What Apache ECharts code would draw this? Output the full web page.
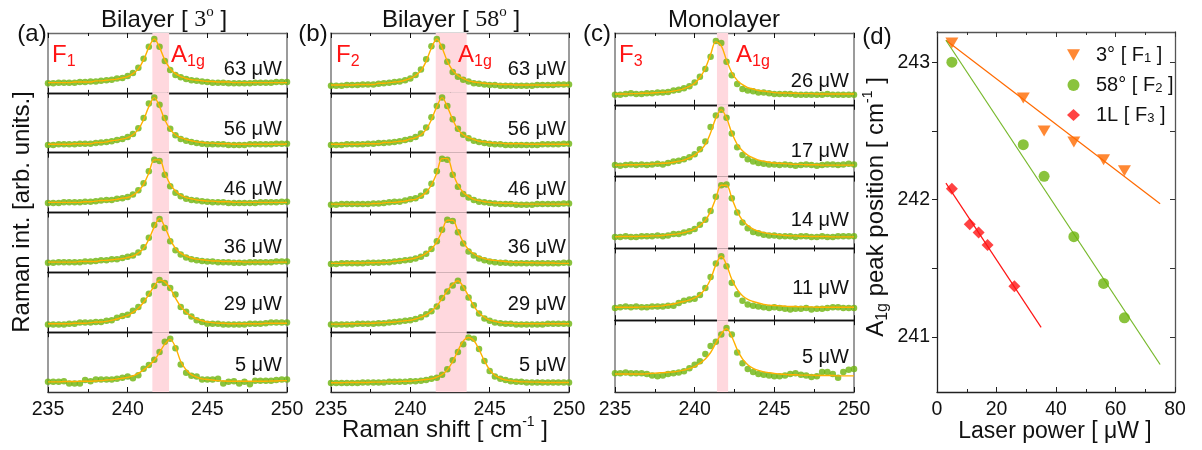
<!DOCTYPE html>
<html><head><meta charset="utf-8">
<script src="https://cdn.jsdelivr.net/npm/echarts@6/dist/echarts.min.js"></script>
<style>html,body{margin:0;padding:0;background:#fff}#c{width:1202px;height:450px}</style>
</head><body><div id="c"></div>
<script>
// ---------- DATA ----------
const ramanShift = [235.00,235.33,235.67,236.00,236.33,236.67,237.00,237.33,237.67,238.00,238.33,238.67,239.00,239.33,239.67,240.00,240.33,240.67,241.00,241.33,241.67,242.00,242.33,242.67,243.00,243.33,243.67,244.00,244.33,244.67,245.00,245.33,245.67,246.00,246.33,246.67,247.00,247.33,247.67,248.00,248.33,248.67,249.00,249.33,249.67,250.00];

// (a) Bilayer 3 deg, F1
const a63Dots = [0.16,0.16,0.17,0.17,0.17,0.17,0.18,0.18,0.19,0.19,0.20,0.21,0.22,0.24,0.25,0.28,0.33,0.42,0.57,0.77,0.90,0.77,0.53,0.38,0.30,0.26,0.23,0.21,0.20,0.19,0.18,0.17,0.17,0.17,0.16,0.16,0.16,0.16,0.16,0.17,0.17,0.17,0.17,0.18,0.18,0.18];
const a63Fit  = [0.17,0.17,0.17,0.17,0.17,0.18,0.18,0.18,0.18,0.20,0.20,0.21,0.22,0.23,0.25,0.27,0.32,0.40,0.55,0.76,0.90,0.76,0.55,0.40,0.32,0.27,0.24,0.22,0.21,0.20,0.19,0.19,0.18,0.18,0.18,0.17,0.17,0.17,0.17,0.17,0.17,0.17,0.17,0.17,0.17,0.17];
const a56Dots = [0.13,0.13,0.14,0.14,0.14,0.14,0.15,0.15,0.15,0.16,0.17,0.18,0.19,0.21,0.23,0.26,0.31,0.41,0.58,0.82,0.92,0.80,0.58,0.40,0.29,0.23,0.20,0.18,0.16,0.15,0.14,0.14,0.14,0.14,0.13,0.13,0.13,0.13,0.14,0.14,0.14,0.14,0.14,0.15,0.15,0.15];
const a56Fit  = [0.14,0.14,0.14,0.14,0.14,0.15,0.15,0.15,0.15,0.17,0.17,0.18,0.20,0.21,0.23,0.25,0.30,0.39,0.55,0.77,0.92,0.77,0.55,0.39,0.30,0.25,0.22,0.20,0.18,0.17,0.16,0.16,0.15,0.15,0.15,0.14,0.14,0.14,0.14,0.14,0.14,0.14,0.14,0.14,0.14,0.15];
const a46Dots = [0.16,0.16,0.16,0.17,0.17,0.17,0.17,0.18,0.18,0.19,0.20,0.21,0.21,0.23,0.24,0.26,0.30,0.37,0.49,0.69,0.88,0.86,0.63,0.44,0.33,0.27,0.23,0.21,0.20,0.19,0.18,0.17,0.17,0.17,0.16,0.16,0.16,0.16,0.16,0.16,0.17,0.17,0.17,0.17,0.18,0.18];
const a46Fit  = [0.17,0.17,0.17,0.17,0.17,0.17,0.17,0.18,0.18,0.19,0.20,0.20,0.21,0.22,0.24,0.25,0.29,0.36,0.47,0.66,0.88,0.88,0.66,0.47,0.36,0.29,0.25,0.23,0.21,0.20,0.19,0.19,0.18,0.18,0.18,0.17,0.17,0.17,0.17,0.17,0.17,0.17,0.17,0.17,0.17,0.17];
const a36Dots = [0.16,0.16,0.17,0.17,0.17,0.17,0.17,0.18,0.18,0.19,0.20,0.20,0.22,0.22,0.24,0.26,0.28,0.33,0.42,0.58,0.79,0.89,0.74,0.52,0.37,0.30,0.25,0.22,0.20,0.19,0.18,0.18,0.17,0.17,0.17,0.16,0.16,0.16,0.17,0.17,0.17,0.17,0.17,0.18,0.18,0.18];
const a36Fit  = [0.17,0.17,0.17,0.17,0.17,0.17,0.18,0.18,0.18,0.18,0.20,0.20,0.21,0.22,0.23,0.25,0.27,0.32,0.40,0.55,0.76,0.90,0.76,0.55,0.40,0.32,0.27,0.24,0.22,0.21,0.20,0.19,0.19,0.18,0.18,0.18,0.18,0.17,0.17,0.17,0.17,0.17,0.17,0.17,0.17,0.17];
const a29Dots = [0.13,0.13,0.13,0.13,0.14,0.14,0.16,0.16,0.16,0.17,0.17,0.19,0.20,0.24,0.27,0.29,0.36,0.42,0.53,0.64,0.77,0.87,0.82,0.74,0.63,0.42,0.34,0.26,0.20,0.17,0.14,0.14,0.14,0.13,0.13,0.13,0.13,0.13,0.14,0.14,0.14,0.15,0.16,0.16,0.16,0.16];
const a29Fit  = [0.14,0.14,0.14,0.14,0.14,0.15,0.15,0.15,0.16,0.17,0.17,0.18,0.20,0.22,0.25,0.28,0.33,0.40,0.50,0.63,0.77,0.87,0.84,0.73,0.57,0.43,0.33,0.27,0.22,0.19,0.17,0.16,0.15,0.15,0.14,0.14,0.14,0.14,0.14,0.14,0.14,0.15,0.15,0.15,0.15,0.15];
const a5Dots  = [0.17,0.17,0.17,0.18,0.14,0.14,0.14,0.20,0.18,0.21,0.21,0.21,0.21,0.22,0.24,0.26,0.23,0.28,0.39,0.45,0.54,0.67,0.84,0.89,0.73,0.46,0.32,0.27,0.26,0.21,0.21,0.21,0.22,0.14,0.17,0.18,0.14,0.17,0.13,0.19,0.19,0.19,0.19,0.20,0.21,0.21];
const a5Fit   = [0.17,0.17,0.17,0.175,0.175,0.175,0.18,0.18,0.18,0.185,0.19,0.20,0.205,0.215,0.23,0.245,0.27,0.31,0.37,0.44,0.53,0.66,0.80,0.88,0.75,0.51,0.37,0.29,0.25,0.22,0.21,0.20,0.19,0.185,0.18,0.18,0.18,0.18,0.18,0.18,0.18,0.18,0.185,0.185,0.19,0.19];

// (b) Bilayer 58 deg, F2
const b63Dots = [0.12,0.12,0.12,0.13,0.13,0.13,0.14,0.14,0.14,0.15,0.16,0.17,0.18,0.19,0.21,0.24,0.30,0.39,0.56,0.78,0.90,0.77,0.52,0.35,0.27,0.22,0.19,0.16,0.15,0.14,0.13,0.13,0.12,0.12,0.12,0.12,0.12,0.12,0.12,0.13,0.13,0.13,0.13,0.14,0.14,0.14];
const b63Fit  = [0.13,0.13,0.13,0.13,0.13,0.14,0.14,0.14,0.14,0.16,0.16,0.17,0.18,0.19,0.21,0.24,0.29,0.37,0.53,0.75,0.90,0.75,0.53,0.37,0.29,0.24,0.20,0.18,0.17,0.16,0.15,0.15,0.14,0.14,0.14,0.13,0.13,0.13,0.13,0.13,0.13,0.13,0.13,0.13,0.13,0.13];
const b56Dots = [0.13,0.13,0.13,0.14,0.14,0.14,0.14,0.15,0.15,0.16,0.16,0.17,0.18,0.19,0.21,0.23,0.26,0.32,0.42,0.59,0.78,0.92,0.78,0.56,0.40,0.30,0.24,0.20,0.18,0.16,0.15,0.14,0.14,0.13,0.13,0.13,0.13,0.13,0.13,0.13,0.14,0.14,0.14,0.14,0.15,0.15];
const b56Fit  = [0.14,0.14,0.14,0.14,0.14,0.14,0.15,0.15,0.15,0.15,0.17,0.17,0.18,0.19,0.20,0.23,0.25,0.30,0.39,0.55,0.77,0.92,0.77,0.55,0.39,0.30,0.25,0.22,0.19,0.18,0.17,0.16,0.16,0.15,0.15,0.15,0.15,0.14,0.14,0.14,0.14,0.14,0.14,0.14,0.14,0.14];
const b46Dots = [0.13,0.13,0.14,0.14,0.14,0.14,0.14,0.14,0.15,0.15,0.16,0.17,0.18,0.18,0.20,0.22,0.24,0.28,0.35,0.48,0.69,0.90,0.88,0.63,0.43,0.31,0.25,0.21,0.18,0.17,0.16,0.15,0.14,0.14,0.14,0.13,0.13,0.13,0.13,0.14,0.14,0.14,0.14,0.14,0.15,0.15];
const b46Fit  = [0.14,0.14,0.14,0.14,0.14,0.14,0.14,0.14,0.15,0.15,0.16,0.17,0.17,0.18,0.19,0.21,0.22,0.27,0.34,0.46,0.66,0.90,0.90,0.66,0.46,0.34,0.27,0.22,0.20,0.18,0.17,0.16,0.16,0.15,0.15,0.15,0.14,0.14,0.14,0.14,0.14,0.14,0.14,0.14,0.14,0.14];
const b36Dots = [0.14,0.14,0.15,0.15,0.15,0.15,0.15,0.16,0.16,0.16,0.17,0.17,0.18,0.19,0.20,0.21,0.23,0.26,0.31,0.39,0.52,0.71,0.88,0.86,0.67,0.48,0.35,0.28,0.23,0.20,0.18,0.17,0.16,0.16,0.15,0.15,0.15,0.15,0.15,0.15,0.15,0.15,0.15,0.15,0.16,0.16];
const b36Fit  = [0.15,0.15,0.15,0.155,0.155,0.155,0.155,0.16,0.16,0.165,0.165,0.17,0.185,0.195,0.21,0.22,0.24,0.27,0.32,0.39,0.51,0.69,0.87,0.87,0.69,0.51,0.38,0.31,0.26,0.23,0.21,0.20,0.19,0.18,0.17,0.165,0.165,0.16,0.16,0.155,0.155,0.155,0.155,0.15,0.15,0.15];
const b29Dots = [0.13,0.13,0.13,0.13,0.13,0.14,0.14,0.14,0.14,0.15,0.15,0.16,0.17,0.18,0.19,0.20,0.22,0.25,0.30,0.35,0.43,0.57,0.68,0.78,0.86,0.74,0.58,0.45,0.31,0.23,0.19,0.16,0.15,0.14,0.14,0.13,0.13,0.13,0.13,0.13,0.13,0.14,0.14,0.14,0.14,0.14];
const b29Fit  = [0.135,0.135,0.135,0.14,0.14,0.14,0.145,0.145,0.15,0.155,0.16,0.165,0.17,0.18,0.19,0.20,0.22,0.25,0.29,0.35,0.44,0.56,0.69,0.80,0.86,0.76,0.60,0.44,0.32,0.25,0.20,0.18,0.16,0.15,0.15,0.14,0.14,0.14,0.14,0.14,0.14,0.14,0.14,0.14,0.14,0.14];
const b5Dots  = [0.15,0.15,0.15,0.15,0.15,0.15,0.16,0.16,0.16,0.16,0.16,0.17,0.17,0.17,0.17,0.18,0.18,0.19,0.20,0.22,0.24,0.29,0.38,0.53,0.67,0.80,0.91,0.89,0.72,0.52,0.35,0.26,0.22,0.20,0.18,0.17,0.17,0.16,0.16,0.16,0.16,0.16,0.16,0.16,0.16,0.16];
const b5Fit   = [0.155,0.155,0.155,0.16,0.16,0.16,0.16,0.16,0.165,0.165,0.17,0.17,0.17,0.175,0.18,0.18,0.19,0.20,0.21,0.22,0.25,0.29,0.37,0.51,0.69,0.85,0.91,0.86,0.71,0.52,0.37,0.28,0.23,0.20,0.19,0.18,0.17,0.17,0.165,0.165,0.16,0.16,0.16,0.16,0.16,0.16];

// (c) Monolayer, F3
const c26Dots = [0.14,0.14,0.15,0.16,0.15,0.15,0.16,0.16,0.17,0.17,0.18,0.20,0.21,0.23,0.26,0.31,0.39,0.50,0.67,0.89,0.86,0.60,0.41,0.29,0.22,0.20,0.19,0.17,0.17,0.16,0.15,0.15,0.15,0.15,0.14,0.14,0.14,0.14,0.14,0.14,0.15,0.14,0.14,0.14,0.14,0.14];
const c26Fit  = [0.15,0.15,0.15,0.155,0.155,0.16,0.16,0.165,0.17,0.175,0.18,0.19,0.205,0.225,0.255,0.30,0.38,0.51,0.70,0.88,0.82,0.62,0.45,0.34,0.28,0.24,0.22,0.20,0.19,0.18,0.17,0.165,0.165,0.16,0.16,0.155,0.155,0.155,0.15,0.15,0.15,0.15,0.15,0.15,0.15,0.15];
const c17Dots = [0.16,0.15,0.16,0.17,0.16,0.17,0.16,0.17,0.18,0.17,0.19,0.21,0.22,0.24,0.27,0.31,0.38,0.49,0.69,0.85,0.93,0.82,0.60,0.41,0.30,0.24,0.21,0.19,0.18,0.17,0.17,0.16,0.17,0.16,0.15,0.16,0.17,0.16,0.15,0.16,0.17,0.17,0.16,0.17,0.18,0.17];
const c17Fit  = [0.16,0.16,0.165,0.165,0.165,0.17,0.17,0.175,0.18,0.185,0.19,0.20,0.215,0.23,0.26,0.30,0.36,0.45,0.61,0.815,0.93,0.815,0.61,0.45,0.36,0.30,0.26,0.23,0.215,0.20,0.19,0.185,0.18,0.175,0.17,0.17,0.165,0.165,0.165,0.16,0.16,0.16,0.16,0.16,0.16,0.16];
const c14Dots = [0.16,0.16,0.17,0.16,0.16,0.17,0.17,0.17,0.18,0.17,0.18,0.20,0.20,0.22,0.24,0.27,0.33,0.40,0.52,0.72,0.88,0.89,0.70,0.50,0.36,0.28,0.23,0.21,0.19,0.18,0.18,0.17,0.17,0.17,0.16,0.17,0.17,0.16,0.16,0.17,0.16,0.16,0.17,0.17,0.17,0.17];
const c14Fit  = [0.16,0.165,0.165,0.165,0.165,0.17,0.17,0.175,0.175,0.18,0.19,0.195,0.205,0.22,0.24,0.27,0.32,0.39,0.515,0.70,0.88,0.88,0.70,0.515,0.39,0.32,0.27,0.24,0.22,0.205,0.195,0.19,0.18,0.175,0.175,0.17,0.17,0.165,0.165,0.165,0.165,0.16,0.16,0.16,0.16,0.16];
const c11Dots = [0.17,0.18,0.19,0.18,0.19,0.18,0.18,0.19,0.19,0.19,0.20,0.20,0.24,0.27,0.29,0.30,0.35,0.45,0.60,0.79,0.89,0.75,0.52,0.36,0.27,0.22,0.20,0.19,0.18,0.17,0.18,0.17,0.16,0.15,0.16,0.16,0.17,0.15,0.16,0.16,0.17,0.18,0.18,0.17,0.17,0.17];
const c11Fit  = [0.18,0.18,0.18,0.18,0.18,0.185,0.185,0.19,0.195,0.20,0.215,0.225,0.245,0.26,0.28,0.31,0.355,0.44,0.57,0.77,0.89,0.77,0.57,0.43,0.34,0.29,0.26,0.24,0.22,0.21,0.205,0.20,0.195,0.19,0.19,0.185,0.185,0.185,0.18,0.18,0.18,0.18,0.18,0.18,0.18,0.18];
const c5Dots  = [0.26,0.26,0.27,0.26,0.26,0.26,0.25,0.23,0.22,0.23,0.25,0.26,0.27,0.29,0.33,0.38,0.43,0.53,0.64,0.70,0.80,0.89,0.80,0.55,0.40,0.32,0.28,0.25,0.24,0.23,0.22,0.22,0.23,0.25,0.26,0.24,0.23,0.21,0.22,0.28,0.28,0.25,0.20,0.28,0.31,0.32];
const c5Fit   = [0.25,0.25,0.25,0.25,0.25,0.25,0.255,0.26,0.265,0.27,0.275,0.28,0.29,0.305,0.325,0.355,0.40,0.46,0.55,0.68,0.81,0.88,0.77,0.59,0.46,0.38,0.33,0.30,0.28,0.27,0.26,0.25,0.245,0.24,0.24,0.235,0.235,0.235,0.23,0.23,0.23,0.23,0.225,0.225,0.225,0.225];

const powersA = ['63','56','46','36','29','5'];
const powersB = ['63','56','46','36','29','5'];
const powersC = ['26','17','14','11','5'];

// (d) A1g peak position vs laser power
const laserPowerF1 = [5,29,36,46,56,63];
const peakF1 = [243.14,242.74,242.50,242.42,242.29,242.21];
const laserPowerF2 = [5,29,36,46,56,63];
const peakF2 = [243.00,242.40,242.17,241.73,241.39,241.14];
const laserPowerF3 = [5,11,14,17,26];
const peakF3 = [242.08,241.82,241.76,241.67,241.37];
const fitF1X = [3,75], fitF1Y = [243.16,241.97];
const fitF2X = [3,75], fitF2Y = [243.16,240.80];
const fitF3X = [3,35], fitF3Y = [242.12,241.07];
const yTicksD = [241,241.5,242,242.5,243];
const yLabelsD = [241,242,243];

// ---------- STYLE / LAYOUT ----------
const FONT = '"Liberation Sans", Arial, Helvetica, sans-serif';
const SERIF = '"Liberation Serif", "Times New Roman", serif';
const GREEN = '#6db40c', FITC = '#ffb000', PINK = '#ffd8de', RED = '#ff1414', ORANGE = '#ff6a00';
const TXT = '#111';
const TICKFS = 19.5;

const panels = [
  {left:48, width:239, top:33, height:359, band:[241.55,242.6], labelX:282, labelOff:[36,37,37,35,32,33], powers:powersA,
   spectra:[[a63Dots,a63Fit],[a56Dots,a56Fit],[a46Dots,a46Fit],[a36Dots,a36Fit],[a29Dots,a29Fit],[a5Dots,a5Fit]]},
  {left:331, width:238, top:33, height:359, band:[241.6,243.55], labelX:566, labelOff:[36,37,37,35,32,33], powers:powersB,
   spectra:[[b63Dots,b63Fit],[b56Dots,b56Fit],[b46Dots,b46Fit],[b36Dots,b36Fit],[b29Dots,b29Fit],[b5Dots,b5Fit]]},
  {left:615, width:239, top:33, height:359, band:[241.4,242.1], labelX:849, labelOff:[48,47,44,40,37], powers:powersC,
   spectra:[[c26Dots,c26Fit],[c17Dots,c17Fit],[c14Dots,c14Fit],[c11Dots,c11Fit],[c5Dots,c5Fit]]}
];

const grids=[], xAxes=[], yAxes=[], series=[], graphics=[];
const zip = (xs, ys) => xs.map((x,i)=>[x, ys[i]]);

function makeX(g, pos, showLabel, color) {
  return {type:'value', gridIndex:g, position:pos, min:235, max:250, interval:5,
    axisLine:{show:true, onZero:false, lineStyle:{color:color, width:1.3}},
    axisTick:{show:true, inside:true, length:5, lineStyle:{color:'#111', width:1}},
    minorTick:{show:true, splitNumber:2, length:3, lineStyle:{color:'#111', width:1}},
    axisLabel:{show:showLabel, fontSize:TICKFS, fontFamily:FONT, color:TXT, margin:8, showMinLabel:true, showMaxLabel:true},
    splitLine:{show:false}, minorSplitLine:{show:false}};
}
function makeY(g, pos) {
  return {type:'value', gridIndex:g, position:pos, min:0, max:1,
    axisLine:{show:true, onZero:false, lineStyle:{color:'#7a7a7a', width:1.5}},
    axisTick:{show:false}, axisLabel:{show:false}, splitLine:{show:false}};
}
function text(x, y, str, size, opts) {
  opts = opts || {};
  return {type:'text', x:x, y:y, rotation:opts.rot||0, silent:true, z:100,
    style:Object.assign({text:str, fill:opts.color||TXT, font:size+'px '+FONT, align:opts.align||'center', verticalAlign:'middle'}, opts.style||{})};
}
function richStyle(size, color) {
  return {
    m:{fontSize:size, fontFamily:FONT, fill:color, lineHeight:30},
    sub:{fontSize:Math.round(size*0.66), fontFamily:FONT, fill:color, lineHeight:22, verticalAlign:'bottom'},
    sup:{fontSize:Math.round(size*0.58), fontFamily:FONT, fill:color, lineHeight:16, verticalAlign:'top'},
    sr:{fontSize:size, fontFamily:SERIF, fill:color, lineHeight:30},
    so:{fontSize:Math.round(size*0.62), fontFamily:SERIF, fill:color, lineHeight:18, verticalAlign:'top'}
  };
}
function richText(x, y, str, size, color, rot, align) {
  return {type:'text', x:x, y:y, rotation:rot||0, silent:true, z:100,
    style:{text:str, rich:richStyle(size, color), align:align||'center', verticalAlign:'middle'}};
}

panels.forEach(p => {
  const n = p.spectra.length, h = p.height / n;
  p.spectra.forEach((sp, k) => {
    const g = grids.length;
    const top = p.top + k*h;
    grids.push({left:p.left, top:top, width:p.width, height:h});
    const last = k === n-1;
    xAxes.push(makeX(g, 'bottom', last, last ? '#333' : '#111'));
    xAxes.push(makeX(g, 'top', false, k === 0 ? '#6a6a6a' : '#111'));
    yAxes.push(makeY(g, 'left'));
    yAxes.push(makeY(g, 'right'));
    const xi = xAxes.length - 2, yi = yAxes.length - 2;
    series.push({type:'scatter', xAxisIndex:xi, yAxisIndex:yi, data:zip(ramanShift, sp[0]), symbolSize:6.5,
      itemStyle:{color:GREEN}, z:2, silent:true, animation:false,
      markArea:{silent:true, itemStyle:{color:PINK}, data:[[{xAxis:p.band[0]},{xAxis:p.band[1]}]]}});
    series.push({type:'line', xAxisIndex:xi, yAxisIndex:yi, data:zip(ramanShift, sp[1]), smooth:0.35,
      showSymbol:false, lineStyle:{color:FITC, width:1.4}, z:3, silent:true, animation:false});
    graphics.push(text(p.labelX, top + p.labelOff[k], p.powers[k] + ' \u03bcW', 20, {align:'right'}));
  });
});

// panel (d)
const gd = grids.length;
grids.push({left:937, top:32, width:238, height:360});
const xdi = xAxes.length;
xAxes.push({type:'value', gridIndex:gd, position:'bottom', min:0, max:80, interval:20,
  axisLine:{onZero:false, lineStyle:{color:'#222', width:1.3}},
  axisTick:{inside:true, length:5, lineStyle:{color:'#222'}}, minorTick:{show:true, splitNumber:2, length:3, lineStyle:{color:'#222'}},
  axisLabel:{fontSize:TICKFS, fontFamily:FONT, color:TXT, margin:8, showMinLabel:true, showMaxLabel:true}, splitLine:{show:false}});
xAxes.push({type:'value', gridIndex:gd, position:'top', min:0, max:80, interval:20,
  axisLine:{onZero:false, lineStyle:{color:'#555', width:1.3}},
  axisTick:{inside:true, length:5, lineStyle:{color:'#333'}}, minorTick:{show:true, splitNumber:2, length:3, lineStyle:{color:'#333'}},
  axisLabel:{show:false}, splitLine:{show:false}});
const ydi = yAxes.length;
yAxes.push({type:'value', gridIndex:gd, position:'left', min:240.6, max:243.22,
  axisLine:{show:true, onZero:false, lineStyle:{color:'#222', width:1.3}},
  axisTick:{show:true, inside:false, length:5, customValues:yTicksD, lineStyle:{color:'#222'}},
  axisLabel:{fontSize:TICKFS, fontFamily:FONT, color:TXT, margin:7, customValues:yLabelsD}, splitLine:{show:false}});
yAxes.push({type:'value', gridIndex:gd, position:'right', min:240.6, max:243.22,
  axisLine:{show:true, onZero:false, lineStyle:{color:'#555', width:1.3}},
  axisTick:{show:true, inside:true, length:5, customValues:yTicksD, lineStyle:{color:'#333'}},
  axisLabel:{show:false}, splitLine:{show:false}});

const TRI = 'path://M0,0L10,0L5,8.66Z';
series.push({name:'F1', type:'line', xAxisIndex:xdi, yAxisIndex:ydi, data:zip(fitF1X, fitF1Y), showSymbol:false, lineStyle:{color:ORANGE, width:1.2}, silent:true, z:4});
series.push({name:'F2', type:'line', xAxisIndex:xdi, yAxisIndex:ydi, data:zip(fitF2X, fitF2Y), showSymbol:false, lineStyle:{color:'#76b82a', width:1.2}, silent:true, z:4});
series.push({name:'F3', type:'line', xAxisIndex:xdi, yAxisIndex:ydi, data:zip(fitF3X, fitF3Y), showSymbol:false, lineStyle:{color:RED, width:1.2}, silent:true, z:4});
series.push({name:'3deg', type:'scatter', xAxisIndex:xdi, yAxisIndex:ydi, data:zip(laserPowerF1, peakF1), symbol:TRI, symbolSize:[13,11], itemStyle:{color:ORANGE}, z:5, silent:true});
series.push({name:'58deg', type:'scatter', xAxisIndex:xdi, yAxisIndex:ydi, data:zip(laserPowerF2, peakF2), symbol:'circle', symbolSize:11, itemStyle:{color:GREEN}, z:5, silent:true});
series.push({name:'1L', type:'scatter', xAxisIndex:xdi, yAxisIndex:ydi, data:zip(laserPowerF3, peakF3), symbol:'diamond', symbolSize:12, itemStyle:{color:RED}, z:5, silent:true});

const legendNames = {'3deg':'{g| }{m|3\u00b0 [ F}{s|1}{m| ]}', '58deg':'{g| }{m|58\u00b0 [ F}{s|2}{m| ]}', '1L':'{g| }{m|1L [ F}{s|3}{m| ]}'};

// texts
graphics.push(text(32, 34, '(a)', 24));
graphics.push(text(313, 34, '(b)', 24));
graphics.push(text(597, 34, '(c)', 24));
graphics.push(text(877, 37, '(d)', 24));
graphics.push(richText(164, 20, '{m|Bilayer [ }{sr|3}{so|o}{m| ]}', 24, TXT));
graphics.push(richText(451, 20, '{m|Bilayer [ }{sr|58}{so|o}{m| ]}', 24, TXT));
graphics.push(richText(724, 20, '{m|Monolayer}', 24, TXT));
[[52,'1',171],[336,'2',458],[619,'3',736]].forEach(r => {
  graphics.push(richText(r[0], 55, '{m|F}{sub|' + r[1] + '}', 24, RED, 0, 'left'));
  graphics.push(richText(r[2], 55, '{m|A}{sub|1g}', 24, RED, 0, 'left'));
});
graphics.push(text(22, 212, 'Raman int. [arb. units.]', 24, {rot:Math.PI/2}));
graphics.push(richText(445, 430, '{m|Raman shift [ cm}{sup|-1}{m| ]}', 24, TXT));
graphics.push(richText(876, 207, '{m|A}{sub|1g}{m| peak position [ cm}{sup|-1}{m| ]}', 24, TXT, Math.PI/2));
graphics.push(richText(1055, 432, '{m|Laser power [ \u03bcW ]}', 23, TXT));

const chart = echarts.init(document.getElementById('c'), null, {renderer:'canvas', width:1202, height:450});
chart.setOption({
  animation:false,
  backgroundColor:'#fff',
  grid:grids, xAxis:xAxes, yAxis:yAxes, series:series,
  legend:{show:true, orient:'vertical', left:1062, top:40, itemWidth:13, itemHeight:12, itemGap:10,
    data:['3deg','58deg','1L'], selectedMode:false,
    formatter:name => legendNames[name],
    textStyle:{color:TXT, fontFamily:FONT, fontSize:20,
      rich:{g:{width:11, fontSize:20}, m:{fontSize:20, fontFamily:FONT, color:TXT, lineHeight:20}, s:{fontSize:13, fontFamily:FONT, color:TXT, lineHeight:14, verticalAlign:'bottom'}}}},
  graphic:graphics
});
</script></body></html>
